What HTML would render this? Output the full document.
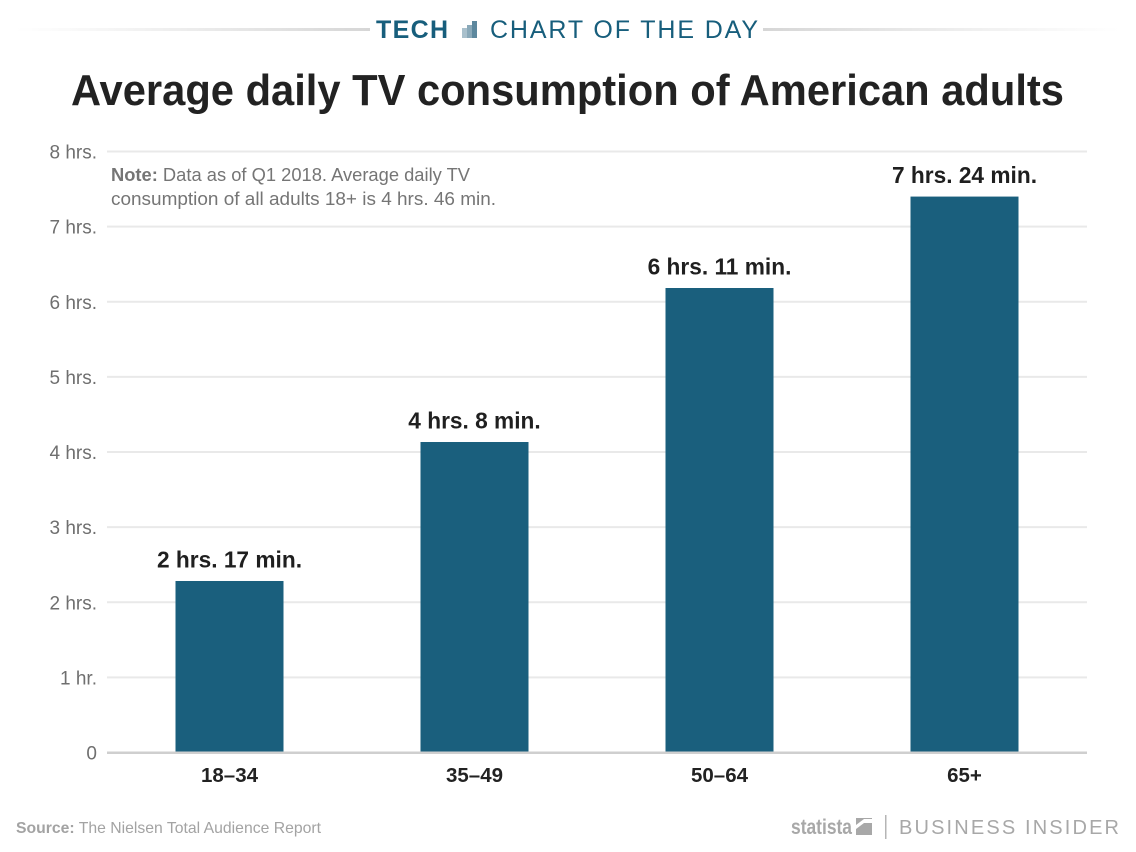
<!DOCTYPE html>
<html lang="en">
<head>
<meta charset="utf-8">
<title>Average daily TV consumption of American adults</title>
<style>
html,body{margin:0;padding:0;background:#fff;}
svg{display:block;font-family:"Liberation Sans",sans-serif;}
</style>
</head>
<body>
<svg id="chart" width="1136" height="852" viewBox="0 0 1136 852" xmlns="http://www.w3.org/2000/svg">
  <defs>
    <linearGradient id="fadeL" x1="0" x2="1" y1="0" y2="0"><stop offset="0" stop-color="#dcdcdc" stop-opacity="0"/><stop offset="1" stop-color="#d6d6d6"/></linearGradient>
    <linearGradient id="fadeR" x1="0" x2="1" y1="0" y2="0"><stop offset="0" stop-color="#d6d6d6"/><stop offset="1" stop-color="#dcdcdc" stop-opacity="0"/></linearGradient>
  </defs>
  <rect width="1136" height="852" fill="#fff"/>
  <g>
    <rect x="15" y="28" width="355" height="3" fill="url(#fadeL)"/>
    <rect x="763" y="28" width="357" height="3" fill="url(#fadeR)"/>
    <text x="376" y="38" font-size="25" font-weight="700" fill="#175e7c" textLength="72" lengthAdjust="spacing">TECH</text>
    <g>
      <rect x="462" y="28" width="5" height="10" fill="#a9c0cc"/>
      <rect x="467" y="25" width="5" height="13" fill="#8aa9b9"/>
      <rect x="472" y="21" width="5" height="17" fill="#5d889e"/>
    </g>
    <text x="490" y="38" font-size="25" fill="#175e7c" textLength="268" lengthAdjust="spacing">CHART OF THE DAY</text>
  </g>
  <text x="71" y="105" font-size="44" font-weight="700" fill="#222" textLength="993" lengthAdjust="spacingAndGlyphs">Average daily TV consumption of American adults</text>
  <g id="grid"></g>
  <g id="yticks"></g>
  <g id="bars"></g>
  <rect id="baseline" x="107" y="751.5" width="980" height="2.5" fill="#cfcfcf"/>
  <g id="values"></g>
  <g id="xticks"></g>
  <g font-size="18.5" fill="#757575">
    <text x="111" y="181" textLength="359" lengthAdjust="spacingAndGlyphs"><tspan font-weight="700">Note:</tspan> Data as of Q1 2018. Average daily TV</text>
    <text x="111" y="205" textLength="385" lengthAdjust="spacingAndGlyphs">consumption of all adults 18+ is 4 hrs. 46 min.</text>
  </g>
  <text x="16" y="833" font-size="16" fill="#a3a3a3" textLength="305" lengthAdjust="spacingAndGlyphs"><tspan font-weight="700">Source:</tspan> The Nielsen Total Audience Report</text>
  <g>
    <text x="791" y="834" font-size="21" font-weight="700" fill="#a8a8a8" textLength="61" lengthAdjust="spacingAndGlyphs">statista</text>
    <g>
      <rect x="856" y="818" width="16" height="17" fill="#a8a8a8"/>
      <path d="M856 829 L864 823 L872 823 L872 819 L864 819 L856 825 Z" fill="#fff"/>
    </g>
    <rect x="885" y="815" width="1.5" height="24" fill="#b5b5b5"/>
    <text x="899" y="834" font-size="20" fill="#a8a8a8" textLength="220" lengthAdjust="spacing">BUSINESS INSIDER</text>
  </g>
</svg>
<script>
const categories = ["18–34", "35–49", "50–64", "65+"];
const hours = [2.283, 4.133, 6.183, 7.4];
const valueLabels = ["2 hrs. 17 min.", "4 hrs. 8 min.", "6 hrs. 11 min.", "7 hrs. 24 min."];
const tickValues = [0, 1, 2, 3, 4, 5, 6, 7, 8];
const tickLabels = ["0", "1 hr.", "2 hrs.", "3 hrs.", "4 hrs.", "5 hrs.", "6 hrs.", "7 hrs.", "8 hrs."];

const SVG_NS = "http://www.w3.org/2000/svg";
const plot = { left: 107, right: 1087, top: 151.5, bottom: 752.5, max: 8, barWidth: 108 };
function yScale(v) {
  return plot.bottom - (v / plot.max) * (plot.bottom - plot.top);
}
function xCenter(i) {
  const band = (plot.right - plot.left) / categories.length;
  return plot.left + band * (i + 0.5);
}
function make(tag, attrs, parent, text) {
  const el = document.createElementNS(SVG_NS, tag);
  for (const k in attrs) el.setAttribute(k, attrs[k]);
  if (text !== undefined) el.textContent = text;
  parent.appendChild(el);
  return el;
}
const grid = document.getElementById("grid");
const yticks = document.getElementById("yticks");
const bars = document.getElementById("bars");
const values = document.getElementById("values");
const xticks = document.getElementById("xticks");

tickValues.forEach(function (t, i) {
  const y = yScale(t);
  if (t !== 0) {
    const line = make("rect", { x: plot.left, y: y - 1, width: plot.right - plot.left, height: 2, fill: "#e9e9e9" }, grid);
    
    
  }
  const label = make("text", { x: 97, y: y + 7, "text-anchor": "end", "font-size": 19, fill: "#6f6f6f" }, yticks, tickLabels[i]);
  
  
});

categories.forEach(function (c, i) {
  const cx = xCenter(i);
  const top = yScale(hours[i]);
  const bar = make("rect", { x: cx - plot.barWidth / 2, y: top, width: plot.barWidth, height: plot.bottom - top, fill: "#1a5f7d" }, bars);
  
  
  const val = make("text", { x: cx, y: top - 13.5, "text-anchor": "middle", "font-size": 22.7, "font-weight": 700, fill: "#1f1f1f" }, values, valueLabels[i]);
  
  
  const lab = make("text", { x: cx, y: 782, "text-anchor": "middle", "font-size": 20.5, "font-weight": 700, fill: "#222" }, xticks, c);
  
  
});
</script>
</body>
</html>
